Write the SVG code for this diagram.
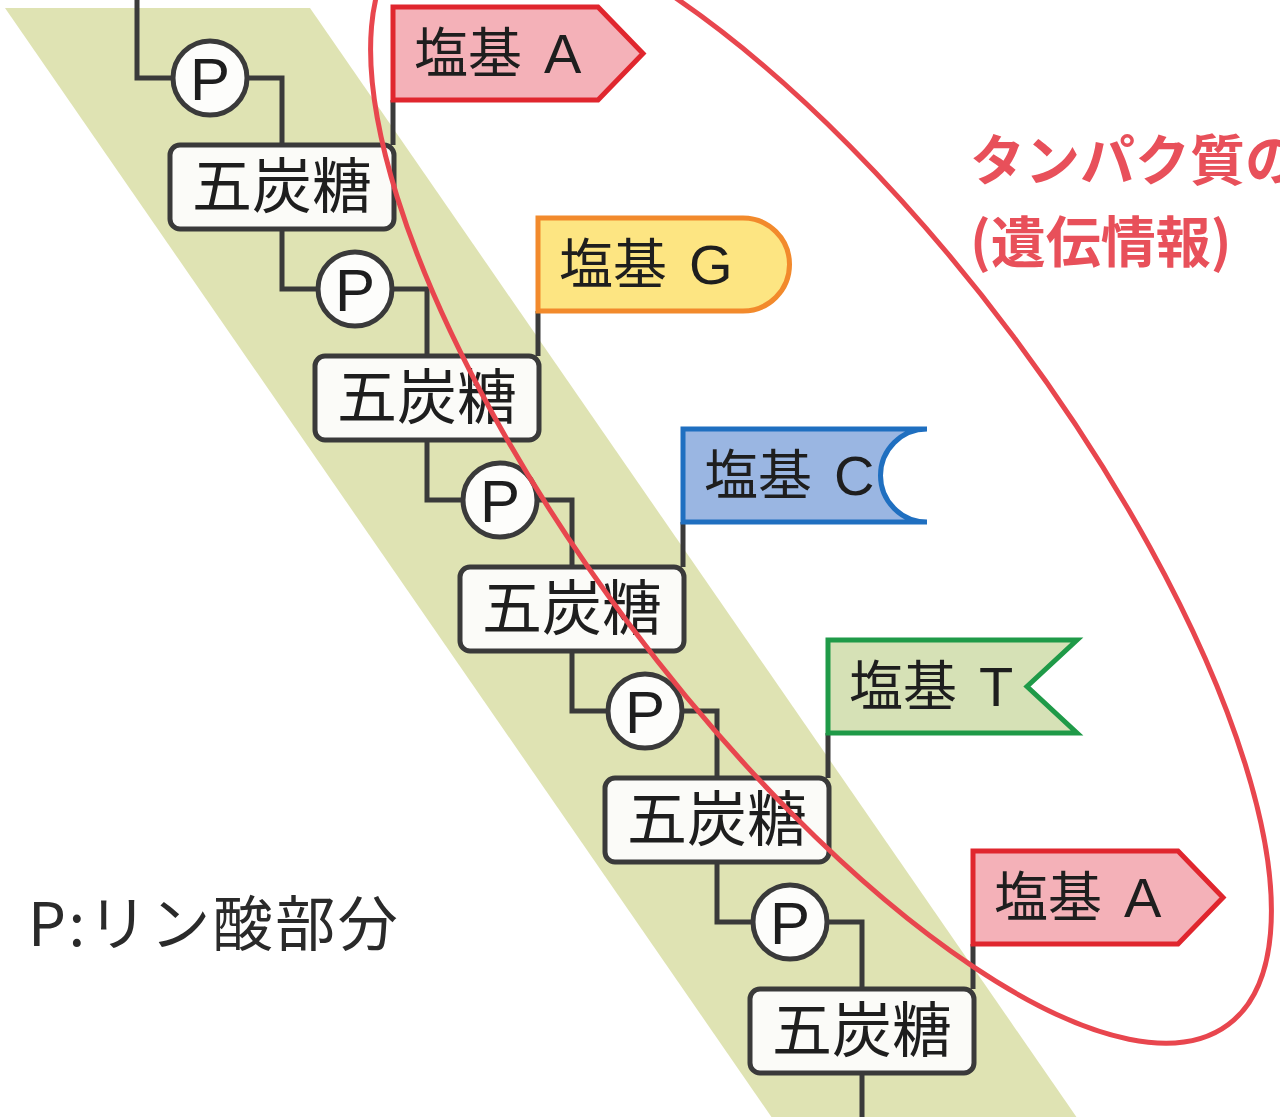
<svg xmlns="http://www.w3.org/2000/svg" width="1280" height="1117" viewBox="0 0 1280 1117">
<style>
.line{fill:none;stroke:#3a3a3a;stroke-width:5;stroke-linejoin:miter}
.sugar rect{fill:#fbfbf8;stroke:#3a3a3a;stroke-width:5}
.sugar text{font-family:"Noto Sans CJK JP",sans-serif;font-size:60px;fill:#1e1e1e;text-anchor:middle}
.p circle{fill:#fdfdfb;stroke:#3a3a3a;stroke-width:5}
.p text{font-family:"Liberation Sans","Noto Sans CJK JP",sans-serif;font-size:60px;fill:#1e1e1e;text-anchor:middle}
.flag path{stroke-width:5;stroke-linejoin:miter}
.flag text{font-family:"Noto Sans CJK JP",sans-serif;font-size:54px;fill:#1e1e1e}
.flag tspan{font-family:"Liberation Sans",sans-serif;font-size:56px}
.red{font-family:"Noto Sans CJK JP",sans-serif;font-weight:bold;font-size:55px;fill:#e8505a}
</style>
<rect width="1280" height="1117" fill="#ffffff"/>
<polygon id="band" points="5,8 310,8 1082,1125 777,1125" fill="#dfe3b3"/>
<g id="connectors" class="line">
<path d="M137,0 V78 H173"/>
<path d="M247,78 H282 V145 M282,229 V289 H318"/>
<path d="M392,289 H427 V356 M427,440 V500 H463"/>
<path d="M537,500 H572 V567 M572,651 V711 H608"/>
<path d="M682,711 H717 V778 M717,862 V922 H753"/>
<path d="M827,922 H862 V989 M862,1073 V1120"/>
<path d="M393,100 V145 M538,311 V356 M683,522 V567 M828,733 V778 M973,944 V989"/>
</g>
<g id="p1" class="p"><circle cx="210" cy="78" r="37"/><text x="210" y="100">P</text></g>
<g id="p2" class="p"><circle cx="355" cy="289" r="37"/><text x="355" y="311">P</text></g>
<g id="p3" class="p"><circle cx="500" cy="500" r="37"/><text x="500" y="522">P</text></g>
<g id="p4" class="p"><circle cx="645" cy="711" r="37"/><text x="645" y="733">P</text></g>
<g id="p5" class="p"><circle cx="790" cy="922" r="37"/><text x="790" y="944">P</text></g>
<g id="sugar1" class="sugar"><rect x="170" y="145" width="224" height="84" rx="10"/><text x="282" y="208">五炭糖</text></g>
<g id="sugar2" class="sugar"><rect x="315" y="356" width="224" height="84" rx="10"/><text x="427" y="419">五炭糖</text></g>
<g id="sugar3" class="sugar"><rect x="460" y="567" width="224" height="84" rx="10"/><text x="572" y="630">五炭糖</text></g>
<g id="sugar4" class="sugar"><rect x="605" y="778" width="224" height="84" rx="10"/><text x="717" y="841">五炭糖</text></g>
<g id="sugar5" class="sugar"><rect x="750" y="989" width="224" height="84" rx="10"/><text x="862" y="1052">五炭糖</text></g>
<g id="baseA1" class="flag"><path d="M393,7 H598 L643,53.5 L598,100 H393 Z" fill="#f4b1b8" stroke="#e0262e"/><text x="414" y="73">塩基 <tspan dx="10">A</tspan></text></g>
<g id="baseG" class="flag"><path d="M538,218 H743 A46.5,46.5 0 0 1 743,311 H538 Z" fill="#fde582" stroke="#f28a2c"/><text x="559" y="284">塩基 <tspan dx="10">G</tspan></text></g>
<g id="baseC" class="flag"><path d="M683,429 H927 A46.5,46.5 0 0 0 927,522 H683 Z" fill="#9ab6e2" stroke="#1f6fc0"/><text x="704" y="495">塩基 <tspan dx="10">C</tspan></text></g>
<g id="baseT" class="flag"><path d="M828,640 H1077 L1027,686.5 L1077,733 H828 Z" fill="#d6e1b6" stroke="#1f9a48"/><text x="849" y="706">塩基 <tspan dx="10">T</tspan></text></g>
<g id="baseA2" class="flag"><path d="M973,851 H1178 L1223,897.5 L1178,944 H973 Z" fill="#f4b1b8" stroke="#e0262e"/><text x="994" y="917">塩基 <tspan dx="10">A</tspan></text></g>
<ellipse id="region" cx="821" cy="480" rx="680" ry="240" transform="rotate(53.2 821 480)" fill="none" stroke="#e8464e" stroke-width="5"/>
<g id="note">
<text class="red" x="970" y="180">タンパク質の</text>
<text class="red" x="970" y="262">(遺伝情報)</text>
</g>
<text id="legend" x="28" y="946" font-family="Noto Sans CJK JP, sans-serif" font-size="60" letter-spacing="2.5" fill="#2a2a2a">P:リン酸部分</text>
</svg>
